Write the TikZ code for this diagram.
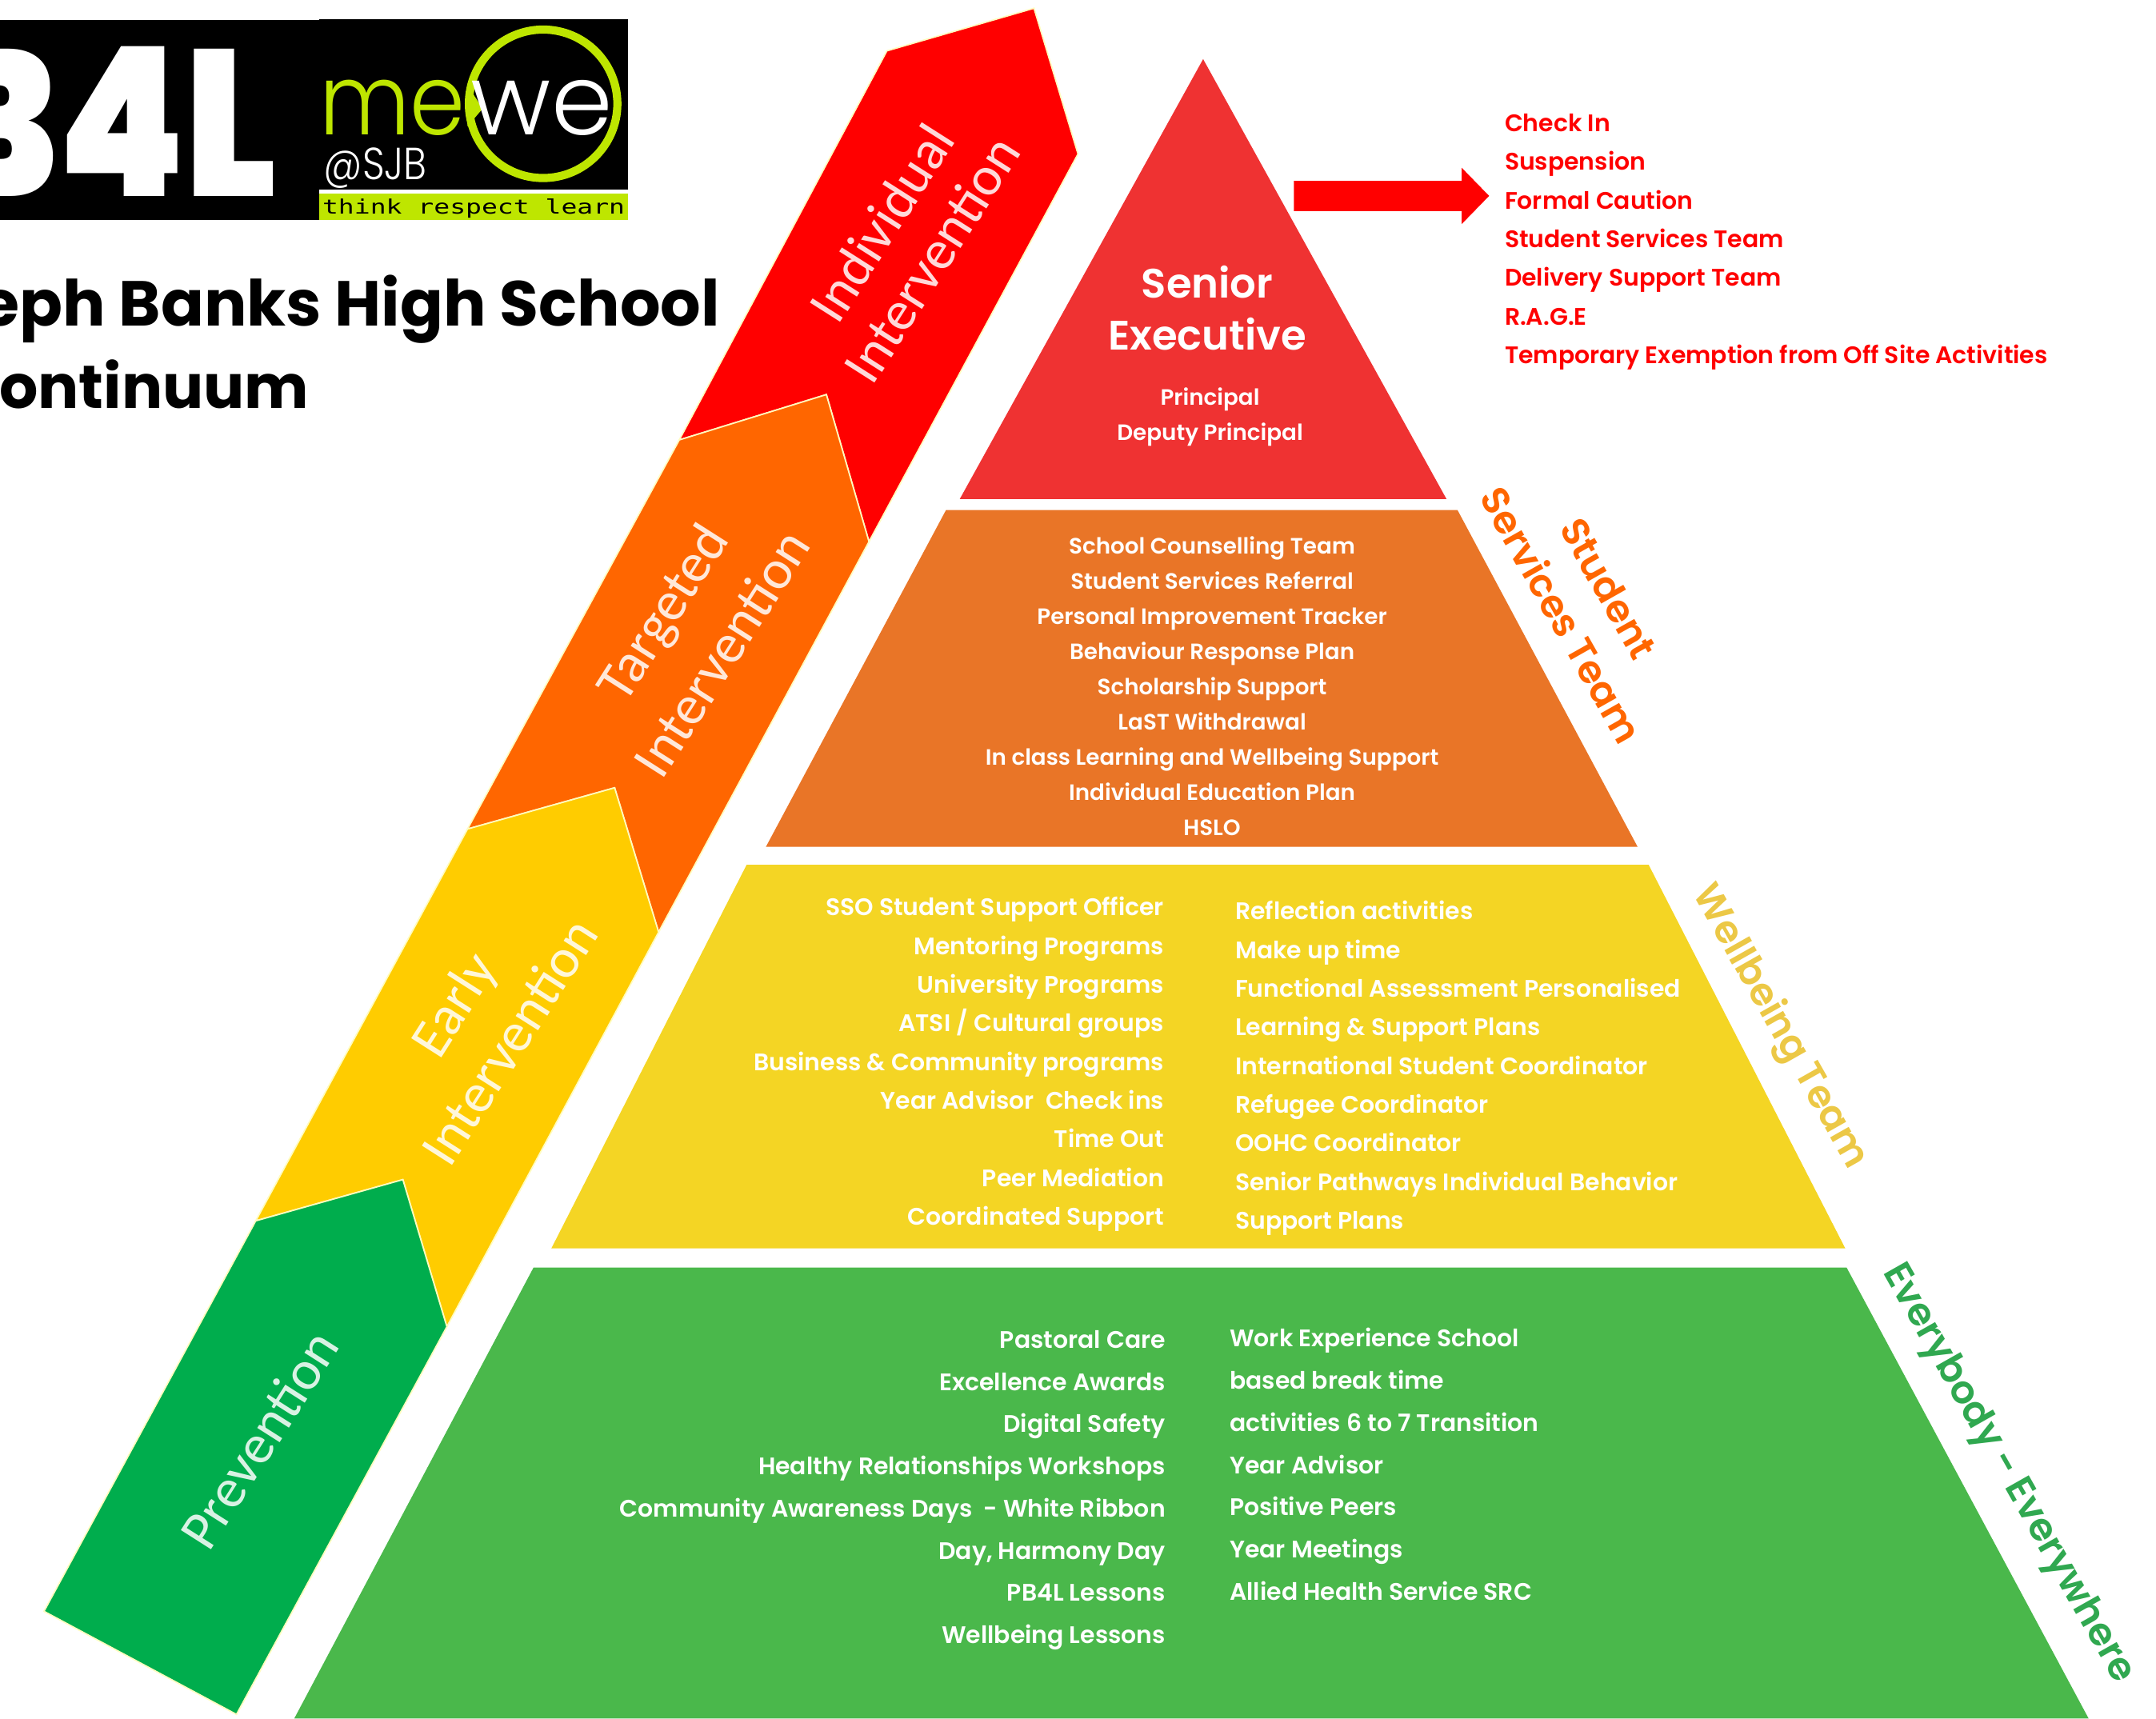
\documentclass[tikz,border=0pt]{standalone}
\usepackage{fontspec}
\setmainfont{Poppins}
\newfontfamily\gothicmed{Poppins SemiBold}
\newfontfamily\gothiclight{Poppins Light}
\newfontfamily\calibrilike{Carlito}
\newfontfamily\logomono{DejaVu Sans Mono}
\newfontfamily\logoblack{Poppins Black}
\definecolor{sjbred}{HTML}{EF3232}
\definecolor{sjborange}{HTML}{E97527}
\definecolor{sjbyellow}{HTML}{F4D524}
\definecolor{sjbgreen}{HTML}{4AB84B}
\definecolor{logolime}{HTML}{BEE600}
\tikzset{
  chevron/.style={draw=white!75!yellow, line width=0.5pt},
  steplabel/.style={text=white, text opacity=0.85, font=\calibrilike\fontsize{19.8}{21}\selectfont, inner sep=0pt, rotate=57.5},
  teamlabel/.style={font=\gothicmed\fontsize{13.7}{14}\selectfont, inner sep=0pt, rotate=-60.5},
  listtext/.style={text=white, inner sep=0pt, font=\gothicmed\fontsize{7.9}{#1}\selectfont},
  listtext/.default=12.5,
  widetext/.style={text=white, inner sep=0pt, font=\gothicmed\fontsize{8.5}{#1}\selectfont}
}
\begin{document}
\begin{tikzpicture}[x=0.017188cm,y=-0.017188cm]
  \useasboundingbox (0,0) rectangle (1568,1250);

  % Draw the two logos
  \fill[black] (0,14.5) rectangle (232,160);
  \fill[black] (232,14) rectangle (457,138);
  \fill[logolime] (232,141) rectangle (457,160);
  \begin{scope}
    \clip (0,14.5) rectangle (232,160);
    \node[anchor=base east, inner sep=0pt, text=white] (pbl) at (202,143)
      {\scalebox{0.87}[1]{\logoblack\fontsize{74}{74}\selectfont B4L}};
  \end{scope}
  \draw[logolime, line width=2.9pt] (395,75.5) circle [radius=54];
  \fill[logolime] (340,62) -- (351,79) -- (340,92) -- cycle;
  \node[anchor=base, inner sep=0pt, text=logolime] (me) at (285.5,98)
    {\scalebox{0.9}[1]{\gothiclight\fontsize{35}{35}\selectfont me}};
  \node[anchor=base, inner sep=0pt, text=white] (we) at (394,98)
    {\gothiclight\fontsize{35}{35}\selectfont we};
  \node[anchor=base west, inner sep=0pt, text=white] (sjb) at (235,130.5)
    {\scalebox{0.86}[1]{\gothiclight\fontsize{16}{16}\selectfont @SJB}};
  \node[anchor=base, inner sep=0pt, text=black] (motto) at (344.5,155.5)
    {\scalebox{1}[0.75]{\logomono\fontsize{9.4}{10}\selectfont think respect learn}};

  % Draw the school title
  \node[anchor=base east, inner sep=0pt] (title) at (524,237)
    {\bfseries\fontsize{22.6}{23}\selectfont eph Banks High School};
  \node[anchor=base east, inner sep=0pt] (subtitle) at (225,297)
    {\bfseries\fontsize{21.6}{23}\selectfont ontinuum};

  % Draw the continuum of arrows, top one first
  \filldraw[fill=red, chevron] (494,320) -- (645,37) -- (752,6) -- (784,112) -- (632,394) -- (601,287) -- cycle;
  \filldraw[fill={rgb,255:red,255;green,102;blue,0}, chevron] (340,603) -- (494,320) -- (601,287) -- (632,394) -- (479,678) -- (447,573) -- cycle;
  \filldraw[fill={rgb,255:red,255;green,204;blue,0}, chevron] (186,888) -- (340,603) -- (447,573) -- (479,678) -- (325,965) -- (293,858) -- cycle;
  \filldraw[fill={rgb,255:red,0;green,173;blue,77}, chevron] (32,1172) -- (186,888) -- (293,858) -- (325,965) -- (172,1247) -- cycle;

  % Label the arrows
  \node[steplabel] (individual) at (641,162) {Individual};
  \node[steplabel] (interventiona) at (677.5,188.5) {Intervention};
  \node[steplabel] (targeted) at (484,447) {Targeted};
  \node[steplabel] (interventionb) at (524.5,475) {Intervention};
  \node[steplabel] (early) at (332,732) {Early};
  \node[steplabel] (interventionc) at (370,757.5) {Intervention};
  \node[steplabel] (prevention) at (188.5,1047) {Prevention};

  % Draw the pyramid layers
  \fill[sjbred] (875,43) -- (1052,363) -- (698,363) -- cycle;
  \fill[sjborange] (688,371) -- (1060,371) -- (1191,616) -- (557,616) -- cycle;
  \fill[sjbyellow] (543,629) -- (1199,629) -- (1342,908) -- (401,908) -- cycle;
  \fill[sjbgreen] (388,922) -- (1343,922) -- (1519,1250) -- (214,1250) -- cycle;

  % Senior executive layer
  \node[text=white, inner sep=0pt, align=center, font=\gothicmed\fontsize{14.6}{18.4}\selectfont] (senior) at (878,224) {Senior\\Executive};
  \node[listtext, align=center] (executive) at (880,303.5) {Principal\\Deputy Principal};

  % Block arrow and the list it points to
  \fill[red] (941,131.5) -- (1063,131.5) -- (1063,122) -- (1083,142.5) -- (1063,163) -- (1063,153.5) -- (941,153.5) -- cycle;
  \node[anchor=west, widetext=13.75, text=red, align=left] (measures) at (1094,176)
    {Check In\\Suspension\\Formal Caution\\Student Services Team\\Delivery Support Team\\R.A.G.E\\Temporary Exemption from Off Site Activities};

  % Student services layer
  \node[listtext, align=center] (services) at (881.5,499)
    {School Counselling Team\\Student Services Referral\\Personal Improvement Tracker\\Behaviour Response Plan\\Scholarship Support\\LaST Withdrawal\\In class Learning and Wellbeing Support\\Individual Education Plan\\HSLO};

  % Wellbeing layer
  \node[widetext=13.75, anchor=east, align=right] (wellleft) at (847,774)
    {SSO Student Support Officer\\Mentoring Programs\\University Programs\\ATSI / Cultural groups\\Business \& Community programs\\Year Advisor~~Check ins\\Time Out\\Peer Mediation\\Coordinated Support};
  \node[widetext=13.75, anchor=west, align=left] (wellright) at (898,777)
    {Reflection activities\\Make up time\\Functional Assessment Personalised\\Learning \& Support Plans\\International Student Coordinator\\Refugee Coordinator\\OOHC Coordinator\\Senior Pathways Individual Behavior\\Support Plans};

  % Everybody layer
  \node[widetext=15, anchor=east, align=right] (everyleft) at (848,1084)
    {Pastoral Care\\Excellence Awards\\Digital Safety\\Healthy Relationships Workshops\\Community Awareness Days~~- White Ribbon\\Day, Harmony Day\\PB4L Lessons\\Wellbeing Lessons};
  \node[widetext=15, anchor=west, align=left] (everyright) at (894,1065)
    {Work Experience School\\based break time\\activities 6 to 7 Transition\\Year Advisor\\Positive Peers\\Year Meetings\\Allied Health Service SRC};

  % Team names along the right side
  \node[teamlabel, text={rgb,255:red,255;green,102;blue,0}] (student) at (1170,428) {Student};
  \node[teamlabel, text={rgb,255:red,255;green,102;blue,0}] (servicesteam) at (1136,447) {Services Team};
  \node[teamlabel, text={rgb,255:red,236;green,200;blue,70}] (wellbeing) at (1294,747) {Wellbeing Team};
  \node[teamlabel, text={rgb,255:red,48;green,168;blue,80}] (everybody) at (1460,1072) {Everybody - Everywhere};
\end{tikzpicture}
\end{document}
